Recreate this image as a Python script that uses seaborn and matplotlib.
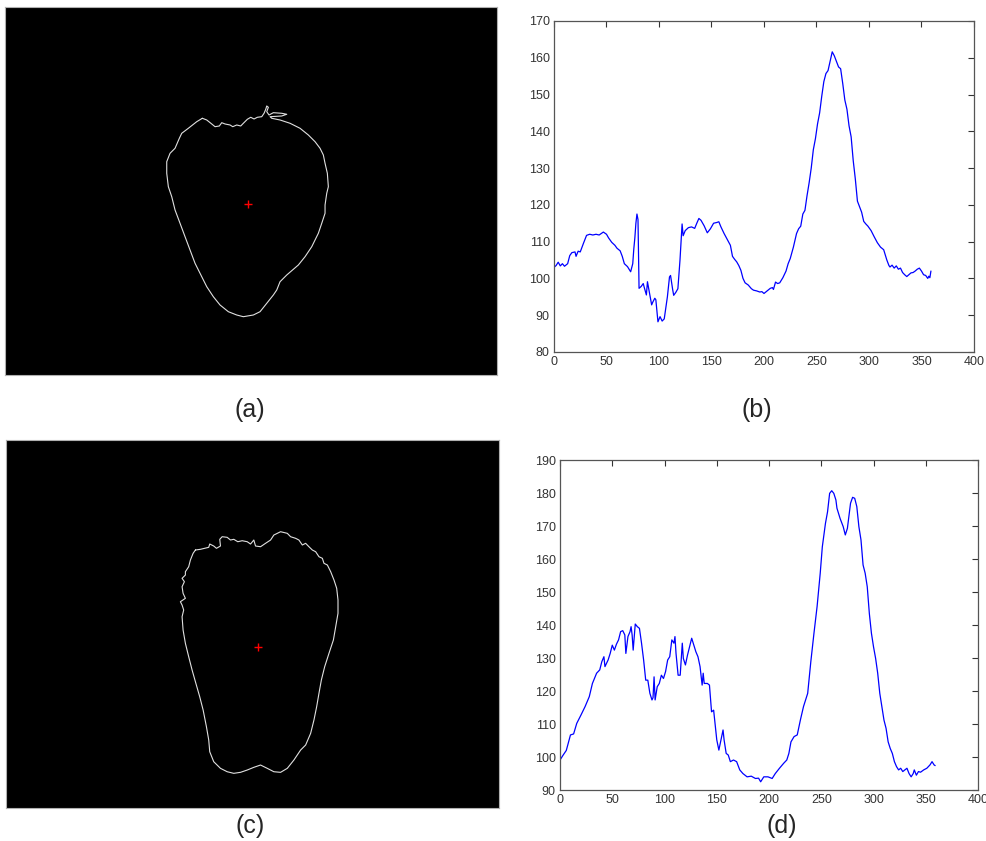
import matplotlib
matplotlib.use("Agg")
import matplotlib.pyplot as plt
import numpy as np
import pandas as pd
import seaborn as sns

# ---- radial profile, fruit (b) : angle (deg) -> distance from centroid (px)
ang_b = [0, 2, 4, 6, 8, 10, 13, 15, 17, 20, 21, 23, 25, 28, 31, 34, 37, 40, 43, 47,
         50, 52, 55, 58, 60, 63, 65, 67, 70, 73, 75, 76, 77, 78, 79, 80, 81, 83, 85,
         86, 88, 89, 91, 93, 94, 96, 97, 99, 101, 103, 105, 106, 108, 110, 111, 113,
         114, 116, 118, 119, 120, 121, 122, 123, 125, 128, 131, 134, 136, 138, 140,
         143, 146, 149, 152, 155, 157, 159, 162, 165, 168, 170, 172, 174, 176, 178,
         180, 182, 185, 188, 190, 193, 196, 198, 200, 203, 206, 208, 209, 211, 213,
         215, 218, 221, 223, 225, 228, 231, 233, 235, 237, 239, 241, 243, 245, 247,
         249, 251, 253, 255, 257, 259, 261, 263, 265, 267, 269, 271, 273, 275, 277,
         279, 281, 283, 285, 287, 289, 291, 293, 295, 297, 299, 302, 305, 308, 311,
         314, 317, 319, 320, 322, 324, 326, 328, 330, 332, 334, 336, 338, 340, 342,
         344, 346, 348, 350, 352, 354, 356, 357, 358, 359]
rad_b = [103, 103.5, 104.4, 103.4, 104, 103.3, 104, 106.2, 107, 107.2, 106, 107.4,
         107.2, 109.5, 111.7, 112, 111.8, 112, 111.8, 112.6, 112, 111, 109.8, 109,
         108.2, 107.5, 106, 104, 103.2, 101.8, 104, 108, 111, 115, 117.5, 116, 97.3,
         97.8, 98.6, 97.5, 95.5, 99.1, 95.9, 92.8, 93.5, 94.6, 94.2, 88.2, 89.6, 88.4,
         89, 91, 95, 100.4, 100.8, 97, 95.4, 96.2, 97.2, 101.3, 105, 110, 114.8, 111.6,
         113, 113.8, 114, 113.6, 115, 116.3, 115.8, 114.3, 112.4, 113.5, 115, 115.2,
         115.4, 114, 112.2, 110.6, 109, 106, 105.2, 104.5, 103.5, 102.2, 100, 98.8,
         98.2, 97.2, 96.8, 96.6, 96.3, 96.4, 95.9, 96.6, 97.3, 97.5, 97, 99, 98.6, 98.8,
         100.2, 102, 104, 105.4, 108.5, 112.2, 113.5, 114.2, 117.5, 118.5, 122.5, 126,
         130, 135, 138, 142, 145, 149.5, 153.5, 155.7, 156.5, 159, 161.6, 160.5,
         159, 157.5, 157, 153, 148.5, 146, 141.5, 138.5, 132, 127, 121, 119.5, 118,
         115.5, 114.8, 114.2, 113, 111.3, 109.7, 108.5, 107.8, 105, 103.5, 103.1, 103.6,
         102.8, 103.4, 102.5, 102.8, 101.6, 101, 100.5, 101, 101.5, 101.6, 102, 102.5,
         102.8, 102, 101, 100.8, 100, 100.6, 100.2, 102]

# ---- radial profile, fruit (d)
ang_d = [0, 3, 6, 10, 13, 16, 20, 24, 28, 31, 35, 38, 40, 42, 43, 46, 48, 50, 52, 54,
         56, 58, 60, 62, 63, 65, 67, 68, 69, 70, 72, 74, 76, 78, 80, 82, 84, 86, 88, 89,
         90, 91, 93, 95, 97, 99, 101, 103, 105, 107, 109, 110, 111, 113, 115, 117, 118,
         120, 122, 124, 126, 128, 130, 132, 134, 136, 137, 138, 141, 143, 145, 147, 148,
         150, 152, 154, 156, 157, 159, 161, 163, 166, 169, 172, 175, 179, 183, 187, 190,
         192, 195, 199, 203, 206, 210, 214, 217, 219, 221, 224, 227, 230, 233, 237, 240,
         243, 246, 249, 251, 254, 256, 258, 260, 262, 264, 265, 268, 271, 273, 275, 278,
         280, 282, 284, 286, 288, 290, 292, 294, 296, 298, 300, 302, 304, 306, 308, 310,
         312, 314, 316, 318, 320, 322, 324, 326, 328, 330, 332, 334, 336, 338, 339, 341,
         343, 345, 348, 351, 354, 356, 358, 359]
rad_d = [99.1, 100.6, 102, 106.7, 107, 110.2, 112.7, 115.3, 118.3, 122.3, 125.4, 126.4,
         128.9, 130.4, 127.4, 129.4, 131.4, 133.9, 132.4, 134.2, 135.5, 138, 138.3, 137,
         131.4, 136.5, 138, 139.5, 137, 132.4, 140.3, 139.5, 139, 134.5, 129.4, 123.3,
         123.3, 119.3, 117.3, 118, 124.3, 117.3, 121.3, 122.3, 124.8, 123.8, 125.9, 129.4,
         130.4, 135.5, 134.5, 136.5, 131.4, 124.8, 124.8, 134.5, 129.9, 127.9, 130.9,
         133.4, 136, 134, 131.9, 130.4, 127.4, 121.8, 125.4, 122.3, 122.3, 121.8, 113.7,
         114.2, 111.2, 105.2, 102.1, 105.2, 108.2, 105.2, 101.1, 100.6, 98.6, 99.1, 98.6,
         96.1, 95, 94, 94.2, 93.5, 93.6, 92.5, 94, 94, 93.5, 95, 96.6, 98.1, 99.1, 101.1,
         104.6, 106.2, 106.7, 111.2, 115.3, 119.3, 128.9, 137.5, 145.6, 155.7, 163.7,
         170.8, 174.3, 179.9, 180.7, 179.9, 177.9, 175.4, 172.3, 169.8, 167.3, 169.3,
         176.9, 178.7, 178.4, 175.9, 169.8, 165.8, 158.2, 155.7, 151.6, 143.5, 137.5,
         133.4, 129.9, 125.4, 119.3, 115.3, 111.2, 108.7, 104.6, 102.6, 101.1, 98.6, 97.1,
         96.1, 96.6, 95.6, 96.1, 96.6, 95, 94, 95, 96.1, 94.5, 95.6, 95.4, 96.1, 96.6,
         97.6, 98.6, 97.6, 97.4]

# ---- segmented outlines, displayed image frame 492 x 368 px (y downward)
contour_a_x = [197.3, 201.7, 206.7, 210, 214.3, 216.7, 220, 225, 227.7, 231.7, 235.7,
               238.3, 242.3, 245.7, 249, 252.3, 256.7, 259, 260.7, 261.7, 263.3, 261.7,
               264, 268.3, 276.7, 281.7, 276.7, 265, 266.7, 275, 285, 295, 303.3, 310,
               315, 318.3, 320, 322.3, 323.3, 321.7, 320, 320, 316.7, 313.3, 306.7, 300,
               293.3, 281.7, 275, 271.7, 268.3, 261.7, 255, 248.3, 238.3, 231.7, 223.3,
               215, 208.3, 201.7, 195, 190, 185, 180, 175, 170, 166.7, 163.3, 161.7,
               161.7, 165, 170, 174.3, 176.7, 183.3, 191.7, 197.3]
contour_a_y = [111.3, 113, 117, 119.7, 119, 115.7, 117, 118, 119.7, 118, 119, 116.3,
               112.3, 110.3, 112, 110.3, 109.7, 106.3, 102.3, 99, 100.3, 104.7, 108,
               105.7, 106.3, 107.3, 109, 109.7, 111.3, 113, 116.3, 121.3, 128, 134.7,
               141.3, 148, 156.3, 166.3, 179.7, 186.3, 198, 206.3, 216.3, 226.3, 239.7,
               249.7, 258, 268, 274.7, 283, 288, 296.3, 304.7, 308, 309.7, 308, 304.7,
               298, 289.7, 279.7, 266.3, 256.3, 243, 229.7, 216.3, 203, 189.7, 179.7,
               166.3, 154.7, 146.3, 141.3, 131.3, 126.3, 121.3, 114.7, 111.3]
centroid_a = (242.7, 197.3)

contour_c_x = [189, 194, 202.3, 203.3, 207.3, 210, 214, 213.3, 215.7, 220.7, 224, 227.3,
               231.3, 235.7, 240.7, 244, 247.3, 249, 254, 259, 264, 267.3, 274, 280.7,
               284, 289, 292.3, 295.7, 299, 302.3, 305.7, 309, 312.3, 315.7, 317.3, 320.7,
               324, 327.3, 330, 331.3, 331.3, 329, 326.7, 322.3, 318, 314.7, 312.3, 310,
               307.3, 304, 299, 294, 287.3, 280.7, 274, 267.3, 260.7, 254, 247.3, 240.7,
               234, 227.3, 220.7, 214, 207.3, 203.3, 202.3, 200, 196.7, 193.3, 189, 185.7,
               182.3, 179, 176.7, 175.7, 177.3, 175.7, 174, 179, 176.7, 175.7, 178, 175.7,
               179, 179, 182.3, 184, 186.7, 189]
contour_c_y = [110, 109.3, 107.3, 104, 106, 108.3, 106, 99.3, 96.7, 97.3, 100, 99.3,
               101.7, 100.7, 101.7, 104, 100, 106, 106.7, 103.3, 100, 95, 91.7, 93.3,
               96.7, 98.3, 100, 105, 103.3, 106.7, 110, 111.7, 116.7, 118.3, 123.3, 125,
               131.7, 140, 148.3, 160, 173.3, 186.7, 200, 213.3, 226.7, 240, 253.3, 266.7,
               280, 293.3, 305, 310, 320, 328.3, 332.3, 331.7, 328.3, 325, 327.3, 330,
               332.3, 333.3, 331.7, 328.3, 321.7, 311.7, 300, 286.7, 270, 256.7, 241.7,
               230, 216.7, 203.3, 190, 176.7, 170, 165, 161.7, 158.3, 153.3, 146.7, 141.7,
               138.3, 135, 131.7, 126.7, 120, 113.3, 110]
centroid_c = (251.3, 206.7)

img_w, img_h = 492, 368
panel_labels = ["(a)", "(b)", "(c)", "(d)"]

sns.set_style("white")
plt.rcParams["font.family"] = ["Liberation Sans", "DejaVu Sans"]

fig = plt.figure(figsize=(9.87, 8.41), dpi=100)
ax_a = fig.add_axes([0.0051, 0.5541, 0.4985, 0.4376])
ax_b = fig.add_axes([0.5613, 0.5815, 0.4255, 0.3936])
ax_c = fig.add_axes([0.0061, 0.0392, 0.4995, 0.4376])
ax_d = fig.add_axes([0.5674, 0.0606, 0.4235, 0.3924])


def outline_panel(ax, xs, ys, centre):
    ax.set_facecolor("black")
    df = pd.DataFrame({"x": xs, "y": ys})
    sns.lineplot(data=df, x="x", y="y", sort=False, estimator=None,
                 color="#e0e0e0", lw=0.8, ax=ax)
    sns.scatterplot(x=[centre[0]], y=[centre[1]], marker="+", color="red",
                    s=40, linewidth=1.0, ax=ax)
    ax.set_xlim(0, img_w)
    ax.set_ylim(img_h, 0)
    ax.set_xticks([])
    ax.set_yticks([])
    ax.set_xlabel("")
    ax.set_ylabel("")
    for sp in ax.spines.values():
        sp.set_color("#b0b0b0")
        sp.set_linewidth(0.8)


def profile_panel(ax, xs, ys, ylim):
    df = pd.DataFrame({"angle": xs, "r": ys})
    sns.lineplot(data=df, x="angle", y="r", color="#0000ff", lw=0.9, ax=ax)
    ax.set_xlim(0, 400)
    ax.set_ylim(*ylim)
    ax.set_xticks(np.arange(0, 401, 50))
    ax.set_yticks(np.arange(ylim[0], ylim[1] + 1, 10))
    ax.set_xlabel("")
    ax.set_ylabel("")
    ax.tick_params(direction="in", length=4, width=0.8, top=True, right=True,
                   labelsize=9, labelcolor="#333333", color="#333333", pad=3)
    for sp in ax.spines.values():
        sp.set_color("#555555")
        sp.set_linewidth(0.9)


outline_panel(ax_a, contour_a_x, contour_a_y, centroid_a)
outline_panel(ax_c, contour_c_x, contour_c_y, centroid_c)
profile_panel(ax_b, ang_b, rad_b, (80, 170))
profile_panel(ax_d, ang_d, rad_d, (90, 190))

label_pos = [(250, 410), (757, 410), (250, 826), (782, 826)]
for lab, (px, py) in zip(panel_labels, label_pos):
    fig.text(px / 987, 1 - py / 841, lab, ha="center", va="center", fontsize=18)

fig.savefig("out.png", dpi=100)
